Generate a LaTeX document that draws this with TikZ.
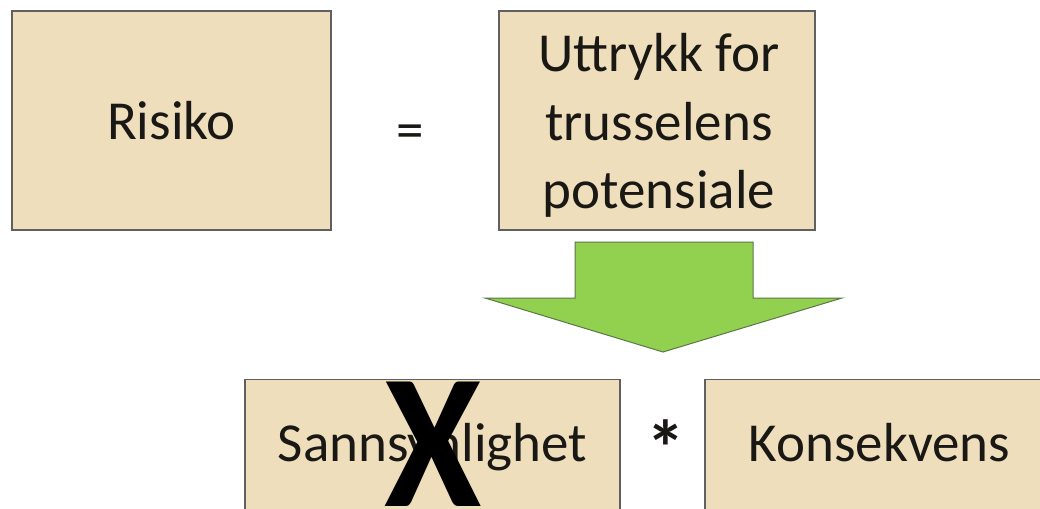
\documentclass[tikz,border=0pt]{standalone}
\usepackage{fontspec}
\setmainfont{Carlito}
\definecolor{parchment}{RGB}{238,222,188}
\definecolor{boxline}{RGB}{96,96,96}
\definecolor{arrowgreen}{RGB}{146,208,80}
\definecolor{arrowline}{RGB}{90,120,70}
\definecolor{ink}{RGB}{26,24,20}
\tikzset{
  paper/.style={draw=boxline, line width=1.3pt, fill=parchment, text=ink,
    inner sep=0pt, font=\fontsize{55}{68.5}\selectfont},
  oneline/.style={text height=40pt, text depth=12pt},
  label/.style={text=ink, inner sep=0pt, align=center,
    font=\fontsize{55}{68.5}\selectfont},
  symb/.style={text=ink, inner sep=0pt, font=\fontsize{55}{68.5}\selectfont},
  bigx/.style={text=black, inner sep=0pt, xscale=0.92,
    font=\fontsize{192}{192}\selectfont\bfseries}
}
\begin{document}
\begin{tikzpicture}[x=1pt,y=-1pt]
\clip (0,0) rectangle (1040,508);
\fill[white] (0,0) rectangle (1040,508);

% top row: Risiko = ...
\node[paper, text height=45pt, text depth=7pt, minimum width=319pt, minimum height=219pt]
  (risiko) at (171.5,120.5) {Risiko};
\node[paper, minimum width=316pt, minimum height=219pt] (uttrykk) at (657,120.5) {};
\node[label] (uttrykktext) at (659,125.5) {Uttrykk for\\trusselens\\potensiale};
\node[symb] (eq) at (410,136.5) {=};

% block arrow pointing down
\coordinate (a1) at (575,242);
\coordinate (a2) at (753,242);
\coordinate (a3) at (753,298);
\coordinate (a4) at (842,298);
\coordinate (tip) at (663,352);
\coordinate (a6) at (485,298);
\coordinate (a7) at (575,298);
\draw[fill=arrowgreen, draw=arrowline, line width=1pt, line join=miter]
  (a1) -- (a2) -- (a3) -- (a4) -- (tip) -- (a6) -- (a7) -- cycle;

% bottom row: Sannsynlighet * Konsekvens
\node[paper, oneline, minimum width=375pt, minimum height=135pt] (sann) at (432.5,447) {Sannsynlighet};
\node[paper, oneline, minimum width=349pt, minimum height=135pt] (kons) at (879.5,447) {Konsekvens};
\node[symb, font=\fontsize{78}{78}\selectfont\bfseries] (times) at (665.5,448) {*};

% crossing out
\node[bigx] (cross) at (433,444) {X};
\end{tikzpicture}
\end{document}
